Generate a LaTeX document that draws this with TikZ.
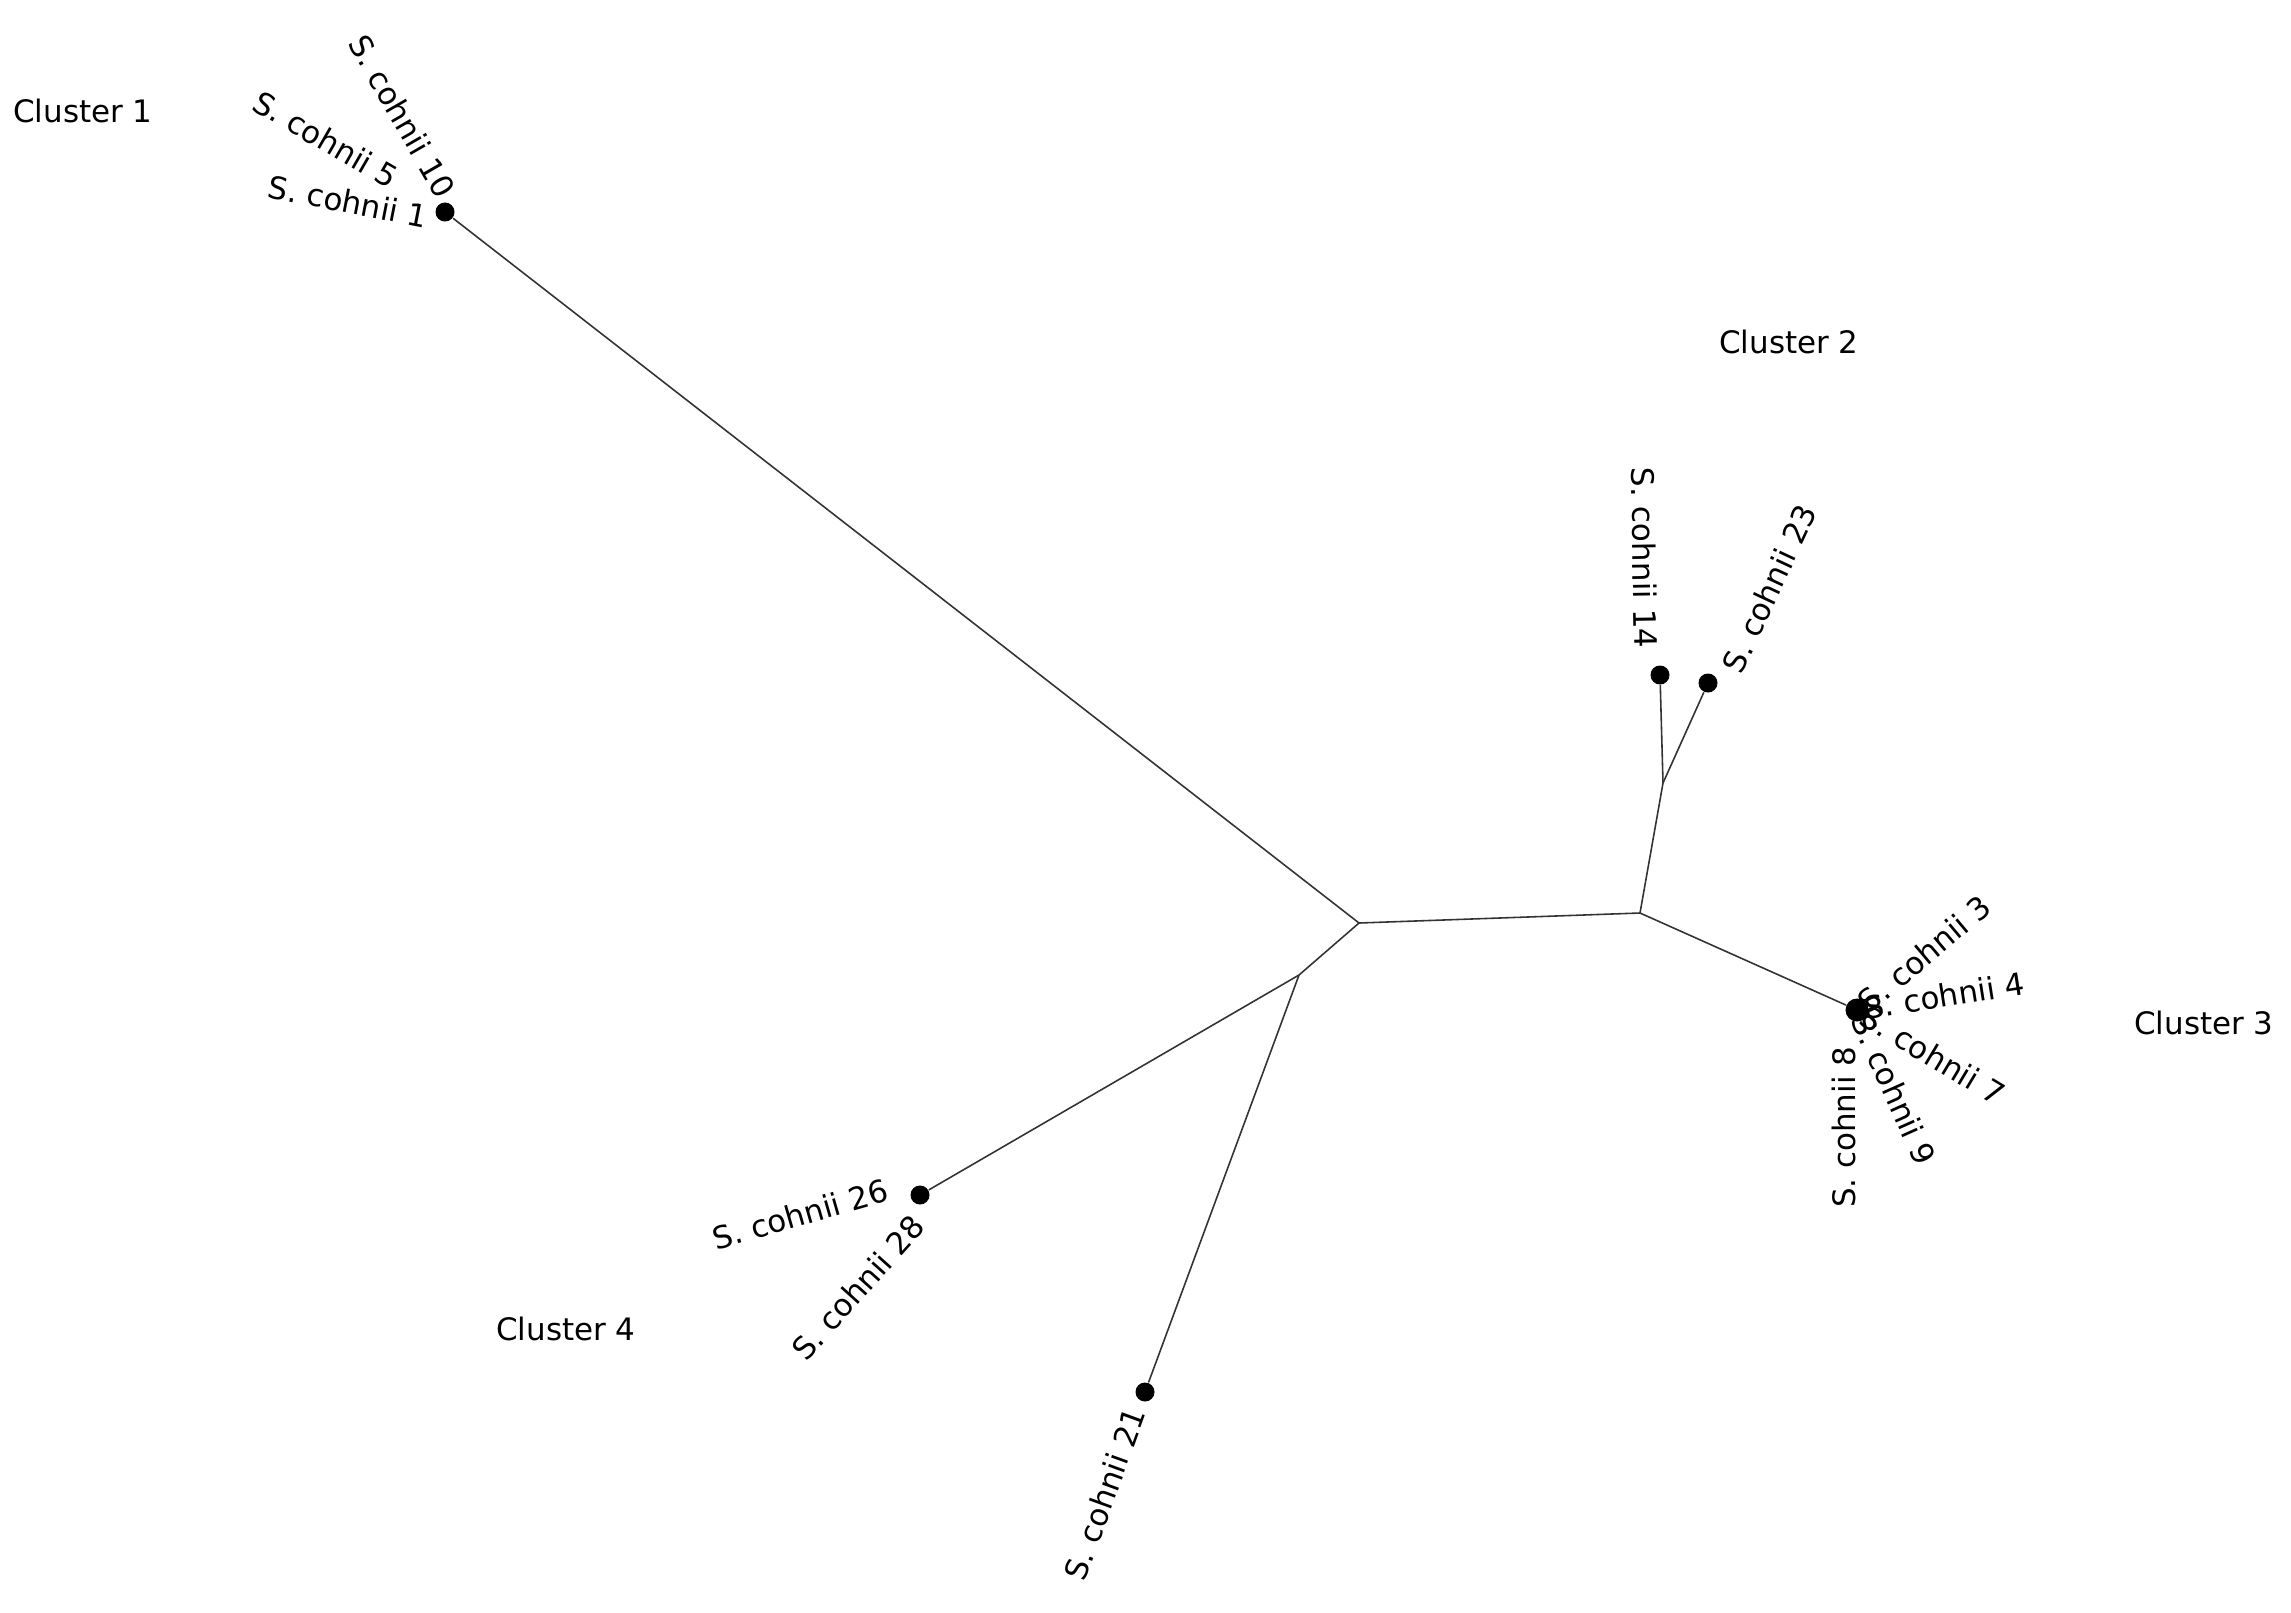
\documentclass[tikz,border=0pt]{standalone}
\usepackage{fontspec}
\setmainfont{DejaVu Sans}
\begin{document}
\begin{tikzpicture}[x=0.01cm,y=-0.01cm,
  branch/.style={draw=black!80, line width=0.45pt},
  leaf/.style={circle, fill=black, inner sep=0pt, minimum size=0.19cm},
  bigleaf/.style={leaf, minimum size=0.23cm},
  lab/.style={inner sep=0pt, font=\fontsize{8.8}{10}\selectfont},
  clab/.style={lab}]
\useasboundingbox (0,0) rectangle (2291,1612);
% internal vertices
\coordinate (A) at (1359,923);
\coordinate (B) at (1640,913);
\coordinate (C) at (1299,975);
\coordinate (D) at (1663,783);
% cluster labels
\node[clab] (c1) at (83,111) {Cluster 1};
\node[clab] (c2) at (1789,342) {Cluster 2};
\node[clab] (c3) at (2204,1023) {Cluster 3};
\node[clab] (c4) at (566,1329) {Cluster 4};
% leaf labels, cluster 1
\node[lab, rotate=-11, anchor=east] (t1) at (428,217) {S. cohnii 1};
\node[lab, rotate=-30, anchor=east] (t5) at (396,180) {S. cohnii 5};
\node[lab, rotate=-60, anchor=east] (t10) at (448,195) {S. cohnii 10};
% cluster 2
\node[lab, rotate=-89, anchor=east] (t14) at (1646,649) {S. cohnii 14};
\node[lab, rotate=65, anchor=west] (t23) at (1731,671) {S. cohnii 23};
% cluster 3
\node[lab, rotate=40, anchor=west] (t3) at (1862,1006) {S. cohnii 3};
\node[lab, rotate=9, anchor=west] (t4) at (1864,1008) {S. cohnii 4};
\node[lab, rotate=-31, anchor=west] (t7) at (1863,1013) {S. cohnii 7};
\node[lab, rotate=-66, anchor=west] (t9) at (1861,1015) {S. cohnii 9};
\node[lab, rotate=90, anchor=east] (t8) at (1844,1046) {S. cohnii 8};
% cluster 4
\node[lab, rotate=16, anchor=east] (t26) at (888,1189) {S. cohnii 26};
\node[lab, rotate=48, anchor=east] (t28) at (919,1220) {S. cohnii 28};
\node[lab, rotate=70, anchor=east] (t21) at (1136,1408) {S. cohnii 21};
% leaves
\node[leaf] (L1) at (445,212) {};
\node[leaf] (L14) at (1660,675) {};
\node[leaf] (L23) at (1708,683) {};
\node[bigleaf] (L3) at (1857,1010) {};
\node[leaf] (L26) at (920,1195) {};
\node[leaf] (L21) at (1145,1392) {};
% branches
\draw[branch] (L1) -- (A);
\draw[branch] (A) -- (B);
\draw[branch] (B) -- (L3);
\draw[branch] (B) -- (D);
\draw[branch] (D) -- (L14);
\draw[branch] (D) -- (L23);
\draw[branch] (A) -- (C);
\draw[branch] (C) -- (L26);
\draw[branch] (C) -- (L21);
\end{tikzpicture}
\end{document}
